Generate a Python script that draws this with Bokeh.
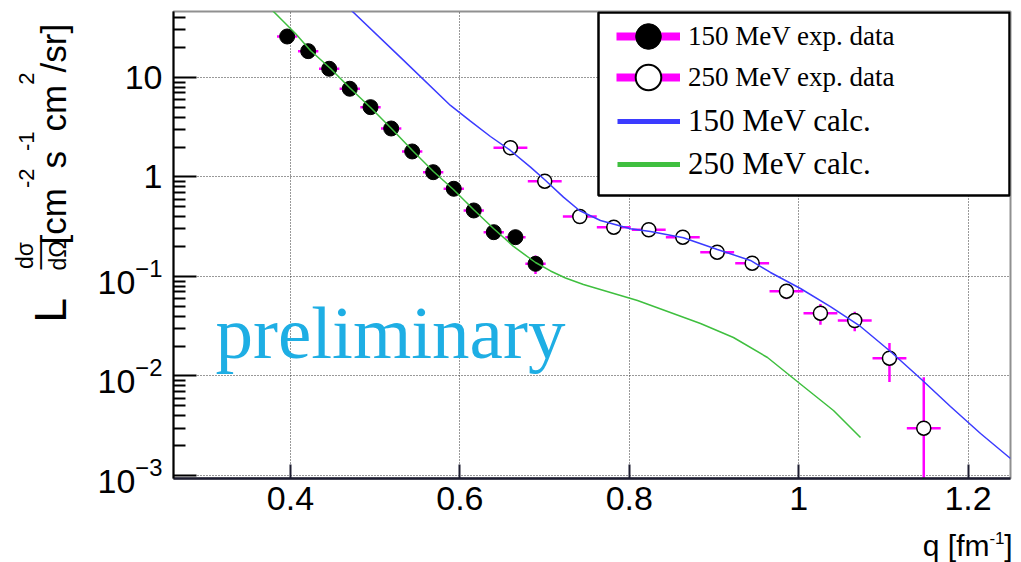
import math
from bokeh.plotting import figure
from bokeh.layouts import row, column
from bokeh.models import (ColumnDataSource, Range1d, FixedTicker, Label, Legend, LegendItem,
                          BoxAnnotation, CustomJSTickFormatter, LogTickFormatter)
from bokeh.embed import file_html
from bokeh.resources import INLINE

# ---------------- data ----------------
# 150 MeV experimental data (filled circles)
q_exp150 = [0.3961, 0.4209, 0.4457, 0.4700, 0.4945, 0.5189, 0.5437, 0.5685, 0.5928, 0.6164, 0.6400, 0.6656, 0.6893]
v_exp150 = [25.8, 18.38, 12.23, 7.70, 5.03, 3.07, 1.804, 1.117, 0.761, 0.4606, 0.2787, 0.2483, 0.1341]
dq_exp150 = [0.012] * 13
dv_exp150 = [1.0, 0.7, 0.5, 0.3, 0.2, 0.12, 0.07, 0.045, 0.03, 0.02, 0.012, 0.01, 0.028]

# 250 MeV experimental data (open circles)
q_exp250 = [0.6597, 0.7002, 0.7416, 0.7817, 0.8230, 0.8632, 0.9038, 0.9451, 0.9856, 1.0257, 1.0662, 1.1072, 1.1477]
v_exp250 = [1.966, 0.9074, 0.4009, 0.3130, 0.2946, 0.2483, 0.1754, 0.1361, 0.0712, 0.0428, 0.0361, 0.0151, 0.00299]
dq_exp250 = [0.02] * 13
dv_exp250 = [0.08, 0.04, 0.02, 0.015, 0.014, 0.012, 0.009, 0.008, 0.012, 0.01, 0.008, 0.0064, 0.0067]

# 150 MeV calculation (blue)
q_calc150 = [0.4472, 0.4732, 0.5299, 0.5889, 0.6125, 0.6361, 0.6597, 0.6834, 0.6999, 0.7223, 0.7412,
             0.7660, 0.8014, 0.8250, 0.8640, 0.9041, 0.9431, 0.9667, 1.0021, 1.0375, 1.0730, 1.1084,
             1.1438, 1.1792, 1.2147, 1.2501]
v_calc150 = [74.9, 46.0, 15.9, 5.23, 3.64, 2.55, 1.846, 1.254, 0.944, 0.627, 0.4606,
             0.3654, 0.3015, 0.2833, 0.2448, 0.1868, 0.1448, 0.1097, 0.0757, 0.0499, 0.03144, 0.01763,
             0.00944, 0.00494, 0.002643, 0.001482]

# 250 MeV calculation (green)
q_calc250 = [0.3646, 0.3799, 0.4059, 0.4236, 0.4472, 0.4708, 0.4945, 0.5192, 0.5440, 0.5688, 0.5924,
             0.6161, 0.6397, 0.6633, 0.6893, 0.7070, 0.7247, 0.7459, 0.8097, 0.8841, 0.9230, 0.9632,
             0.9998, 1.0411, 1.0730]
v_calc250 = [63.7, 46.0, 27.7, 18.68, 12.32, 7.75, 4.99, 3.07, 1.846, 1.136, 0.7488,
             0.4714, 0.3037, 0.2002, 0.1382, 0.1136, 0.0966, 0.0831, 0.0574, 0.0337, 0.02436, 0.01534,
             0.0086, 0.0045, 0.002409]

x_ticks = [0.4, 0.6, 0.8, 1.0, 1.2]
y_ticks = [0.001, 0.01, 0.1, 1, 10]

# ---------------- layout (page pixels) ----------------
X0, X1 = 0.2619, 1.2501
Y0, Y1 = 0.000933, 46.0
YW = 90                       # width of the y-title strip
ML, MR, MT, MB = 83, 11, 11, 48
FW, FH = 837, 467
FL = YW + ML                  # frame left in page px (173)
PH = MT + FH + MB             # height of the main figure (526)
XH = 562 - PH                 # height of the x-title strip
LY0, LY1 = math.log10(Y0), math.log10(Y1)
MID = 0.345                   # baseline -> text-centre offset, in em


def px2q(px):
    return X0 + (px - FL) / FW * (X1 - X0)


def py2v(py):
    return 10 ** (LY1 - (py - MT) / FH * (LY1 - LY0))


p = figure(frame_width=FW, frame_height=FH, x_axis_type="linear", y_axis_type="log",
           x_range=Range1d(X0, X1), y_range=Range1d(Y0, Y1),
           output_backend="svg", toolbar_location=None,
           min_border_left=ML, min_border_right=MR, min_border_top=MT, min_border_bottom=MB)
p.background_fill_color = "white"
p.border_fill_color = "white"
p.outline_line_color = "#909090"
p.outline_line_width = 2

# axes
p.xaxis.ticker = FixedTicker(ticks=x_ticks, minor_ticks=[])
p.xaxis.formatter = CustomJSTickFormatter(code="return parseFloat(tick.toFixed(3)).toString();")
p.xaxis.axis_line_color = "#1c1c30"
p.xaxis.axis_line_width = 2.5
p.xaxis.major_tick_in = 14
p.xaxis.major_tick_out = 0
p.xaxis.major_tick_line_width = 2
p.xaxis.major_tick_line_color = "#1c1c30"
p.xaxis.minor_tick_line_color = None
p.xaxis.major_label_text_font = "Liberation Sans"
p.xaxis.major_label_text_font_size = "34px"
p.xaxis.major_label_text_color = "black"
p.xaxis.major_label_standoff = 8

minor_y = [k * 10.0 ** e for e in range(-4, 2) for k in range(2, 10)]
p.yaxis.ticker = FixedTicker(ticks=y_ticks, minor_ticks=minor_y)
p.yaxis.formatter = LogTickFormatter(min_exponent=0)
p.yaxis.major_label_overrides = {10: "10", 1: "1"}
p.yaxis.major_label_text_font = "Liberation Sans"
p.yaxis.major_label_text_font_size = "34px"
p.yaxis.major_label_text_color = "black"
p.yaxis.major_label_standoff = 11
p.yaxis.axis_line_color = "black"
p.yaxis.axis_line_width = 2
p.yaxis.major_tick_in = 23
p.yaxis.major_tick_out = 0
p.yaxis.minor_tick_in = 12
p.yaxis.minor_tick_out = 0
p.yaxis.major_tick_line_width = 2
p.yaxis.minor_tick_line_width = 2
p.yaxis.major_tick_line_color = "black"
p.yaxis.minor_tick_line_color = "black"

for g in (p.xgrid, p.ygrid):
    g.grid_line_color = "#333333"
    g.grid_line_dash = "1 2"
    g.grid_line_width = 1

MAGENTA = "#ff00ff"
BLUE = "#3b3bff"
GREEN = "#3fbf3f"


def errbars(q, v, dq, dv):
    src = ColumnDataSource(dict(
        q=q, v=v,
        ql=[a - b for a, b in zip(q, dq)], qh=[a + b for a, b in zip(q, dq)],
        vl=[max(a - b, 1e-9) for a, b in zip(v, dv)], vh=[a + b for a, b in zip(v, dv)]))
    p.segment(x0="ql", y0="v", x1="qh", y1="v", source=src, line_color=MAGENTA, line_width=2.5)
    p.segment(x0="q", y0="vl", x1="q", y1="vh", source=src, line_color=MAGENTA, line_width=2.5)
    return src


s150 = errbars(q_exp150, v_exp150, dq_exp150, dv_exp150)
s250 = errbars(q_exp250, v_exp250, dq_exp250, dv_exp250)
p.scatter(x="q", y="v", source=s150, marker="circle", size=15, fill_color="black", line_color="black")
p.scatter(x="q", y="v", source=s250, marker="circle", size=14, fill_color="white",
          line_color="black", line_width=1.5)

p.line(q_calc150, v_calc150, line_color=BLUE, line_width=1.5)
p.line(q_calc250, v_calc250, line_color=GREEN, line_width=1.5)

# ---------------- legend ----------------
box = BoxAnnotation(left=px2q(598), right=px2q(1009), top=py2v(12), bottom=py2v(195),
                    fill_color="white", fill_alpha=1.0, line_color="black", line_alpha=1.0,
                    line_width=2.5)
p.add_layout(box)

# legend proxies: one NaN row each, so nothing appears in the plot area
nan = float("nan")
dummy = ColumnDataSource(dict(x=[nan], y=[nan]))
r_bar = p.segment(x0="x", y0="y", x1="x", y1="y", source=dummy, line_color=MAGENTA, line_width=8)
r_full = p.scatter(x="x", y="y", source=dummy, marker="circle", fill_color="black", line_color="black")
r_open = p.scatter(x="x", y="y", source=dummy, marker="circle", fill_color="white",
                   line_color="black", line_width=2)
r_blue = p.line(x="x", y="y", source=dummy, line_color=BLUE, line_width=5)
r_green = p.line(x="x", y="y", source=dummy, line_color=GREEN, line_width=5)

common = dict(padding=0, margin=0, background_fill_alpha=0, border_line_alpha=0,
              label_text_font="Liberation Serif", label_text_color="black")
legA1 = Legend(items=[LegendItem(label="150 MeV exp. data", renderers=[r_bar, r_full])],
               location=(443, 410), glyph_width=64, glyph_height=64, label_standoff=8,
               label_text_font_size="27px", **common)
legA2 = Legend(items=[LegendItem(label="250 MeV exp. data", renderers=[r_bar, r_open])],
               location=(443, 369), glyph_width=64, glyph_height=64, label_standoff=8,
               label_text_font_size="27px", **common)
legB = Legend(items=[LegendItem(label="150 MeV calc.", renderers=[r_blue]),
                     LegendItem(label="250 MeV calc.", renderers=[r_green])],
              location=(444, 296), glyph_width=63, glyph_height=36, spacing=7, label_standoff=8,
              label_text_font_size="31px", **common)
for lg in (legA1, legA2, legB):
    p.add_layout(lg, "center")

# watermark (baseline at page y 358)
p.add_layout(Label(x=px2q(215), y=py2v(358 - MID * 75), text="preliminary",
                   text_font="Liberation Serif", text_font_size="75px", text_color="#1eaee4",
                   text_align="left", text_baseline="middle"))


# ---------------- axis titles (in their own strips, page px as data units) ----------------
def strip(w, h, top):
    f = figure(frame_width=w, frame_height=h, x_range=Range1d(0, w), y_range=Range1d(top + h, top),
               x_axis_location=None, y_axis_location=None, output_backend="svg",
               toolbar_location=None, min_border=0)
    f.outline_line_color = None
    f.grid.visible = False
    f.background_fill_color = "white"
    f.border_fill_color = "white"
    return f


def lab(fig, text, x, y, size, align="left", rotated=False):
    # (x, y) is the point on the text baseline in page px
    if rotated:
        ax, ay, ang = x - MID * size, y, math.pi / 2
    else:
        ax, ay, ang = x, y - MID * size, 0.0
    fig.add_layout(Label(x=ax, y=ay, text=text, text_font="Liberation Sans",
                         text_font_size=f"{size}px", text_align=align,
                         text_baseline="middle", angle=ang, text_color="black"))


yfig = strip(YW, PH, 0)
lab(yfig, "L", 65, 311, 44, rotated=True)
lab(yfig, "d\u03c3", 32, 244, 23, align="center", rotated=True)
lab(yfig, "d\u03a9", 65, 244, 23, align="center", rotated=True)
lab(yfig, "\u2014", 47.3, 244, 28, align="center", rotated=True)
for txt, start, size, base in [("[cm", 233, 35, 65), ("-2", 176.6, 22, 34), ("s", 157.0, 35, 65),
                               ("-1", 139.5, 22, 34), ("cm", 119.9, 35, 65), ("2", 73.2, 22, 34),
                               ("/sr]", 61.0, 35, 65)]:
    lab(yfig, txt, base, start, size, rotated=True)

xfig = strip(1021, XH, PH)
lab(xfig, "]", 1012, 555, 30, align="right")
lab(xfig, "-1", 1004, 543, 17, align="right")
lab(xfig, "q [fm", 989, 555, 30, align="right")

layout = column(row(yfig, p, spacing=0), xfig, spacing=0)
open("out.html", "w").write(file_html(layout, INLINE))
